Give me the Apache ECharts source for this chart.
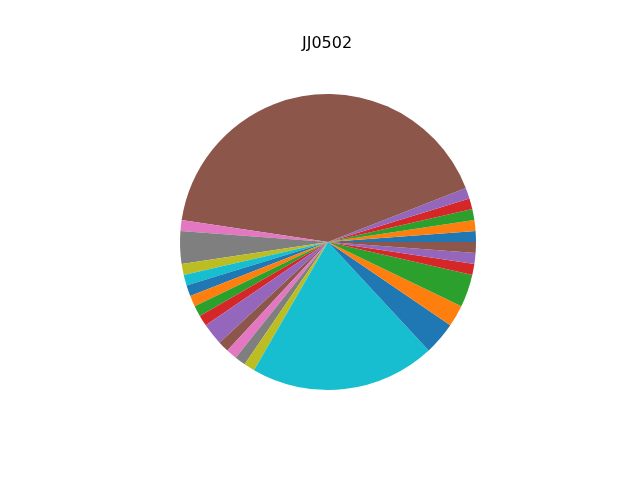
<!DOCTYPE html>
<html>
<head>
<meta charset="utf-8">
<script src="https://cdn.jsdelivr.net/npm/echarts@6/dist/echarts.min.js"></script>
<style>
  html, body { margin: 0; padding: 0; background: #fff; }
  #chart { width: 640px; height: 480px; }
</style>
</head>
<body>
<div id="chart"></div>
<script>
// slice names and counts, in matplotlib order (counter-clockwise from 3 o'clock)
var names = ['A01', 'A02', 'A03', 'A04', 'A05', 'A06', 'A07', 'A08', 'A09', 'A10',
             'A11', 'A12', 'A13', 'A14', 'A15', 'A16', 'A17', 'A18', 'A19', 'A20',
             'A21', 'A22', 'A23', 'A24', 'A25', 'A26'];
var counts = [1, 1, 1, 1, 1, 35, 1, 3, 1, 1,
              1, 1, 1, 1, 2, 1, 1, 1, 1, 17,
              3, 2, 3, 1, 1, 1];
var palette = ['#1f77b4', '#ff7f0e', '#2ca02c', '#d62728', '#9467bd',
               '#8c564b', '#e377c2', '#7f7f7f', '#bcbd22', '#17becf'];

var pieData = [];
for (var i = 0; i < names.length; i++) {
    pieData.push({value: counts[i], name: names[i]});
}

var myChart = echarts.init(document.getElementById('chart'));
var option = {
    animation: false,
    color: palette,
    title: {
        text: 'JJ0502',
        left: 297,
        top: 31,
        textStyle: {
            fontFamily: 'DejaVu Sans',
            fontSize: 16,
            fontWeight: 'normal',
            color: '#000'
        }
    },
    series: [{
        type: 'pie',
        center: [328, 242],
        radius: 148,
        startAngle: 0,
        clockwise: false,
        avoidLabelOverlap: false,
        label: {show: false},
        labelLine: {show: false},
        emphasis: {disabled: true},
        itemStyle: {borderWidth: 0},
        data: pieData
    }]
};
myChart.setOption(option);
</script>
</body>
</html>
